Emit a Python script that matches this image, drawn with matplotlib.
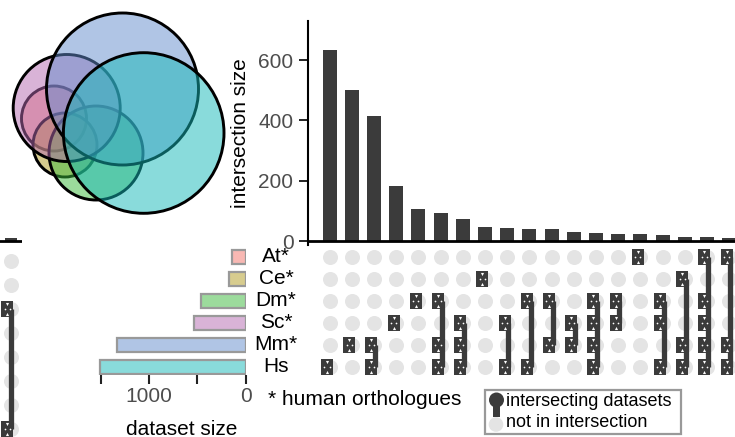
import matplotlib
matplotlib.use('Agg')
import matplotlib.pyplot as plt
from matplotlib.patches import Circle, Rectangle
from matplotlib.colors import to_rgba
import matplotlib.transforms as mtransforms
import numpy as np

plt.rcParams['font.family'] = ['Liberation Sans', 'DejaVu Sans']

W, H = 735, 437
DARK = '#3b3b3b'
LIGHT = '#e4e4e4'
TICKCOL = '#4d4d4d'

# ---------------------------------------------------------#
#                         data                             #
# ---------------------------------------------------------#
set_names = ['At*', 'Ce*', 'Dm*', 'Sc*', 'Mm*', 'Hs']
set_sizes = [145, 176, 467, 536, 1338, 1511]
set_colors = ['#f37369', '#b19b1f', '#3bb93b', '#b569b1', '#638dcd', '#15b9b9']

inter_sizes = [635, 502, 415, 183, 106, 94, 73, 46, 43, 40, 40, 30, 27, 23, 23, 20, 13, 13, 10]
inter_sets = [
    ['Hs'], ['Mm*'], ['Mm*', 'Hs'], ['Sc*'], ['Dm*'],
    ['Dm*', 'Mm*', 'Hs'], ['Sc*', 'Mm*', 'Hs'], ['Ce*'], ['Sc*', 'Hs'], ['Dm*', 'Hs'],
    ['Dm*', 'Mm*'], ['Sc*', 'Mm*'], ['Dm*', 'Sc*', 'Mm*', 'Hs'], ['Dm*', 'Sc*'], ['At*'],
    ['Dm*', 'Sc*', 'Hs'], ['Ce*', 'Mm*', 'Hs'], ['At*', 'Dm*', 'Sc*', 'Mm*', 'Hs'], ['At*', 'Mm*', 'Hs'],
]

# piece of the neighbouring panel cut at the left edge
frag_sizes = [10]
frag_nrows = 8
frag_members = [[2, 7]]

# euler diagram layout (pixel units), same order as set_names
venn_centers = [(54, 118.5), (65, 145), (96, 153), (66.7, 108), (122.5, 89), (143.7, 133)]
venn_radii = [32.5, 32, 47, 53.5, 76, 80.3]

fig = plt.figure(figsize=(W / 100, H / 100), dpi=100)


def px_axes(left, top, right, bottom):
    return fig.add_axes([left / W, 1 - bottom / H, (right - left) / W, (bottom - top) / H])


box = [(-0.38, -0.5), (0.38, -0.5), (0.38, 0.5), (-0.38, 0.5), (-0.38, -0.5)]


def draw_box(ax, x, ys, dy):
    ys = np.asarray(ys, dtype=float)
    xs = np.full(len(ys), x)
    ax.scatter(xs, ys, marker=box, s=135, color=DARK, linewidths=0, zorder=3)
    ax.scatter(xs, ys - dy, marker='v', s=5, color='white', linewidths=0, zorder=4)
    ax.scatter(xs, ys + dy, marker='^', s=5, color='white', linewidths=0, zorder=4)
    ax.scatter(xs - 0.12, ys, marker='o', s=1.5, color='white', linewidths=0, zorder=4)
    ax.scatter(xs + 0.12, ys, marker='o', s=1.5, color='white', linewidths=0, zorder=4)


# ---------------------------------------------------------#
#                  intersection size bars                  #
# ---------------------------------------------------------#
x = np.arange(len(inter_sizes))
xlim = (-0.977, 18.26)

ax_bar = px_axes(308, 21, 735, 245)
ax_bar.bar(x, inter_sizes, width=0.63, color=DARK)
ax_bar.axhline(0, color='black', lw=2)
ax_bar.set_xlim(*xlim)
ax_bar.set_ylim(-13, 730)
for s in ['top', 'right', 'bottom']:
    ax_bar.spines[s].set_visible(False)
ax_bar.spines['left'].set_linewidth(1.5)
ax_bar.set_xticks([])
ax_bar.set_yticks([0, 200, 400, 600])
ax_bar.tick_params(axis='y', length=6.5, width=1.4, color='#222222', labelsize=15,
                   labelcolor=TICKCOL, pad=4)

# ---------------------------------------------------------#
#                      matrix of sets                      #
# ---------------------------------------------------------#
rows = np.arange(len(set_names))
ax_mat = px_axes(308, 245, 735, 380)
xx, yy = np.meshgrid(x, rows)
ax_mat.scatter(xx.ravel(), yy.ravel(), s=117, color=LIGHT, linewidths=0, zorder=1)
for i, members in enumerate(inter_sets):
    r = [set_names.index(m) for m in members]
    if len(r) > 1:
        ax_mat.plot([i + 0.05, i + 0.05], [min(r), max(r)], color=DARK, lw=3.8,
                    solid_capstyle='butt', zorder=2)
    draw_box(ax_mat, i - 0.12, r, 0.23)
ax_mat.set_xlim(*xlim)
ax_mat.set_ylim(5.59, -0.545)
ax_mat.axis('off')

# ---------------------------------------------------------#
#                      dataset sizes                       #
# ---------------------------------------------------------#
ax_set = px_axes(95, 245, 245.7, 375)
ax_set.barh(rows, set_sizes, height=0.68, color=[to_rgba(c, 0.5) for c in set_colors],
            edgecolor='#999999', lw=1.6)
ax_set.set_xlim(1563, 0)
ax_set.set_ylim(5.364, -0.545)
for s in ax_set.spines.values():
    s.set_visible(False)
ax_set.set_yticks([])
ax_set.set_xticks([0, 500, 1000, 1500])
ax_set.set_xticklabels(['0', '', '1000', ''])
ax_set.tick_params(axis='x', length=6.5, width=1.5, color='#222222', labelsize=15,
                   labelcolor=TICKCOL, pad=2.5)
lab_tr = mtransforms.blended_transform_factory(ax_set.transAxes, ax_set.transData)
for r, name in zip(rows, set_names):
    ax_set.text(1.201, r, name, transform=lab_tr, ha='center', va='center',
                fontsize=15, clip_on=False)

# ---------------------------------------------------------#
#                  fragment at left edge                   #
# ---------------------------------------------------------#
ax_fb = px_axes(0, 21, 22, 245)
ax_fb.bar([0], frag_sizes, width=0.545, color=DARK)
ax_fb.axhline(0, color='black', lw=2)
ax_fb.set_xlim(-0.5, 0.5)
ax_fb.set_ylim(-13, 730)
ax_fb.axis('off')

ax_fm = px_axes(0, 245, 22, 437)
frows = np.arange(frag_nrows)
ax_fm.scatter(np.zeros(frag_nrows), frows, s=117, color=LIGHT, linewidths=0, zorder=1, clip_on=False)
for i, r in enumerate(frag_members):
    ax_fm.plot([i, i], [min(r), max(r)], color=DARK, lw=3.8, solid_capstyle='butt', zorder=2)
    draw_box(ax_fm, i - 0.16, r, 0.21)
ax_fm.set_xlim(-0.5, 0.5)
ax_fm.set_ylim(7.333, -0.667)
ax_fm.axis('off')

# ---------------------------------------------------------#
#             overlay: euler diagram, legend, text         #
# ---------------------------------------------------------#
ov = fig.add_axes([0, 0, 1, 1])
ov.set_xlim(0, W)
ov.set_ylim(H, 0)
ov.axis('off')

for (cx, cy), rad, col in zip(venn_centers, venn_radii, set_colors):
    ov.add_patch(Circle((cx, cy), rad, facecolor=to_rgba(col, 0.5), edgecolor='black', lw=2.1))

fig.text(240.8 / W, 1 - 133 / H, 'intersection size', rotation=90, ha='center', va='center', fontsize=15)
fig.text(181.5 / W, 1 - 435 / H, 'dataset size', ha='center', va='baseline', fontsize=15)
fig.text(268 / W, 1 - 405 / H, '* human orthologues', ha='left', va='baseline', fontsize=15)

# legend
ov.add_patch(Rectangle((485, 390), 196, 44, facecolor='white', edgecolor='#999999', lw=1.6))
ov.add_patch(Rectangle((493.3, 400), 6.5, 17, facecolor=DARK, edgecolor='none'))
ov.add_patch(Circle((496.5, 400), 7.5, facecolor=DARK, edgecolor='none'))
ov.add_patch(Circle((496, 424.5), 7.3, facecolor=LIGHT, edgecolor='none'))
ov.text(506.5, 401, 'intersecting datasets', ha='left', va='center', fontsize=13)
ov.text(506.5, 422.5, 'not in intersection', ha='left', va='center', fontsize=13)

fig.savefig('out.png', dpi=100)
